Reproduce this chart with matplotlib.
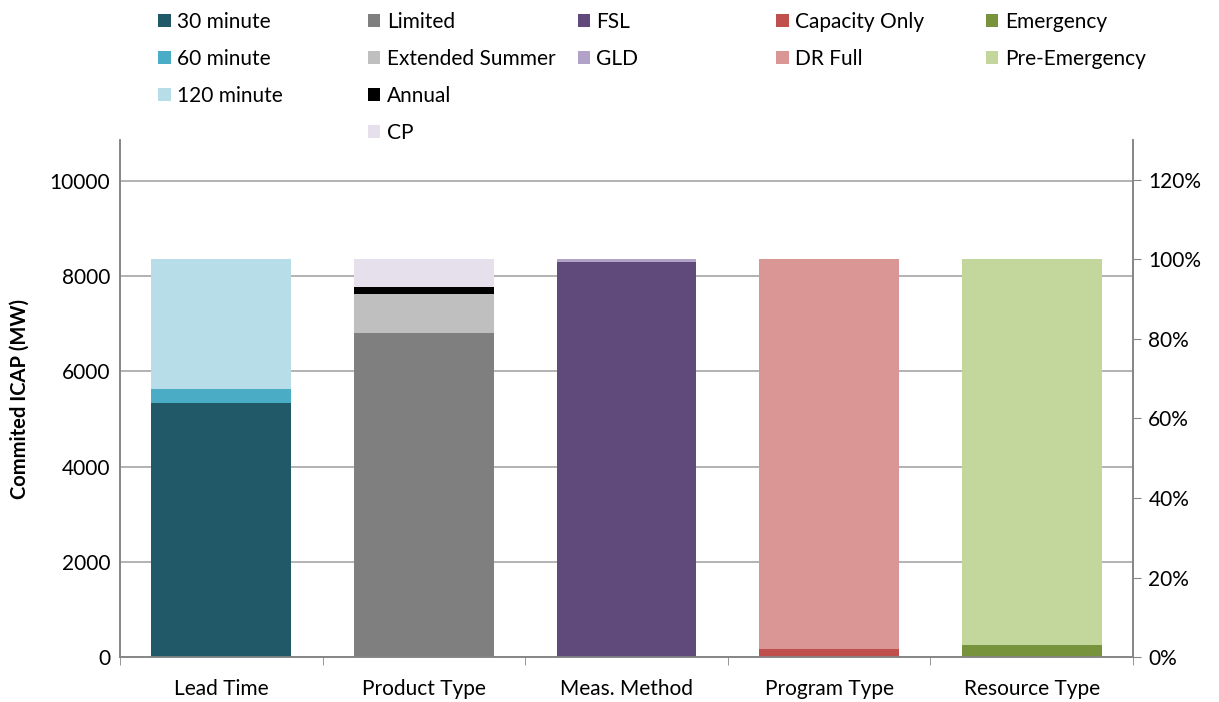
import matplotlib.pyplot as plt
import numpy as np
from matplotlib.patches import Patch
from matplotlib.ticker import FuncFormatter

plt.rcParams['font.family'] = ['Lato', 'DejaVu Sans']

categories = ['Lead Time', 'Product Type', 'Meas. Method', 'Program Type', 'Resource Type']

# segments of each stacked bar, bottom to top (MW)
lead_labels = ['30 minute', '60 minute', '120 minute']
lead_values = [5340, 290, 2720]
lead_colors = ['#215968', '#4BACC6', '#B7DEE8']

product_labels = ['Limited', 'Extended Summer', 'Annual', 'CP']
product_values = [6810, 810, 155, 575]
product_colors = ['#7F7F7F', '#BFBFBF', '#000000', '#E6E0EC']

meas_labels = ['FSL', 'GLD']
meas_values = [8285, 65]
meas_colors = ['#604A7B', '#B3A2C7']

program_labels = ['Capacity Only', 'DR Full']
program_values = [170, 8180]
program_colors = ['#C0504D', '#D99694']

resource_labels = ['Emergency', 'Pre-Emergency']
resource_values = [250, 8100]
resource_colors = ['#77933C', '#C3D69B']

groups = [
    (lead_labels, lead_values, lead_colors),
    (product_labels, product_values, product_colors),
    (meas_labels, meas_values, meas_colors),
    (program_labels, program_values, program_colors),
    (resource_labels, resource_values, resource_colors),
]

total = sum(lead_values)
fs = 15

fig = plt.figure(figsize=(12.19, 7.02), dpi=100)
ax = fig.add_axes([0.0984, 0.064, 0.8311, 0.7366])

x = np.arange(len(categories))
for i, (labels, vals, cols) in enumerate(groups):
    bottom = 0
    for lab, v, c in zip(labels, vals, cols):
        ax.bar(x[i], v, bottom=bottom, width=0.69, color=c, zorder=3)
        bottom += v

ax.set_xlim(-0.5, len(categories) - 0.5)
ax.set_ylim(0, total * 1.3)
ax.set_yticks(np.arange(0, 10001, 2000))
ax.yaxis.grid(True, color='#A6A6A6', linewidth=1.2, zorder=0)
ax.set_xticks(x)
ax.set_xticklabels(categories, fontsize=fs)
ax.set_xticks(np.arange(-0.5, len(categories)), minor=True)
ax.tick_params(axis='x', which='major', length=0, pad=16)
ax.tick_params(axis='x', which='minor', length=6, color='#868686', direction='out')
ax.tick_params(axis='y', labelsize=fs, length=0, pad=7)
ax.set_ylabel('Commited ICAP (MW)', fontsize=fs - 0.5, fontweight='bold', labelpad=14)

ax2 = ax.twinx()
ax2.set_ylim(0, 1.3)
ax2.set_yticks(np.arange(0, 1.21, 0.2))
ax2.yaxis.set_major_formatter(FuncFormatter(lambda v, p: f'{v*100:.0f}%'))
ax2.tick_params(axis='y', labelsize=fs, length=6, color='#868686', direction='out', pad=5)

for a in (ax, ax2):
    a.spines['top'].set_visible(False)
    for s in ('left', 'right', 'bottom'):
        a.spines[s].set_color('#868686')
        a.spines[s].set_linewidth(1.2)

# legend, one column per group
col_x = [0.123, 0.295, 0.467, 0.630, 0.802]
for (labels, vals, cols), cx in zip(groups, col_x):
    handles = [Patch(facecolor=c, edgecolor='none') for c in cols]
    fig.legend(handles, labels, loc='upper left', bbox_to_anchor=(cx, 0.995),
               frameon=False, fontsize=fs, handlelength=0.6, handleheight=0.6,
               handletextpad=0.3, labelspacing=0.82, borderaxespad=0)

fig.savefig('out.png', dpi=100)
